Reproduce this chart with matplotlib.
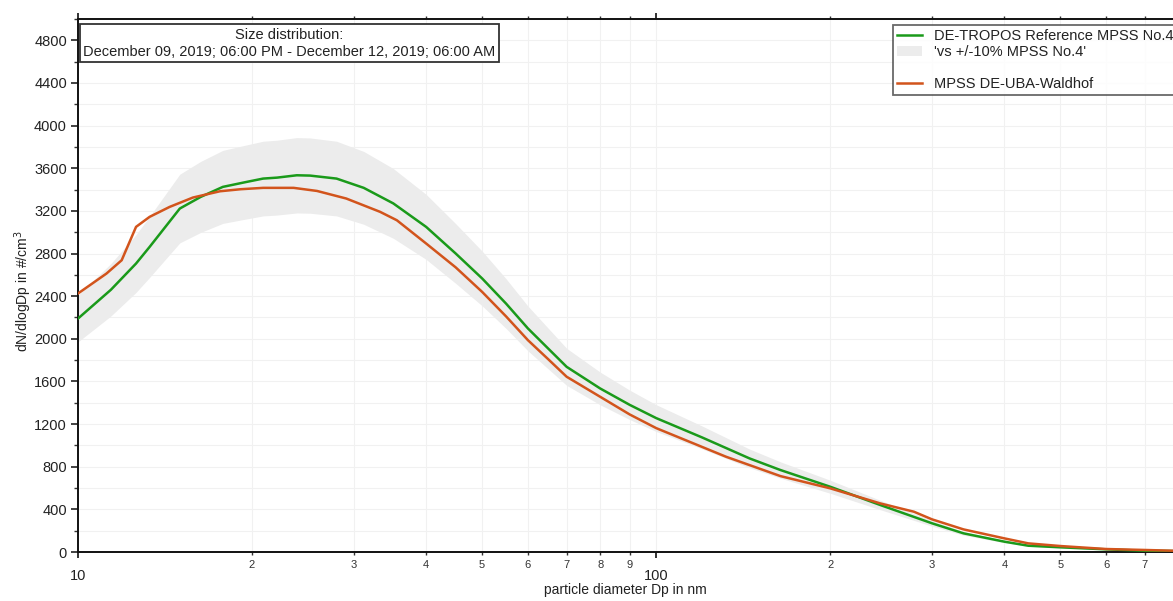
import matplotlib
matplotlib.use("Agg")
import matplotlib.pyplot as plt
import numpy as np
from matplotlib.lines import Line2D
from matplotlib.patches import Patch
from matplotlib.ticker import LogLocator, FixedLocator, MultipleLocator, FuncFormatter

plt.rcParams['font.family'] = ['Liberation Sans', 'DejaVu Sans']

# Reference MPSS (DE-TROPOS), diameter in nm and dN/dlogDp in #/cm3
ref_dp = [10.0, 11.4, 12.6, 13.3, 15.0, 16.3, 17.8, 19.5, 20.9, 22.1, 23.9, 25.2,
          28.0, 31.2, 35.1, 40.0, 45.0, 50.0, 55.0, 60.0, 65.0, 70.0, 80.0, 90.0,
          100, 120, 145, 164, 200, 244, 300, 340, 400, 440, 500, 600, 700, 784]
ref_n = [2190, 2460, 2706, 2862, 3222, 3331, 3425, 3470, 3503, 3512, 3534, 3531,
         3503, 3416, 3270, 3050, 2800, 2566, 2330, 2097, 1910, 1737, 1534, 1380,
         1256, 1075, 878, 769, 612, 441, 269, 175, 97, 59, 44, 25, 12, 9]

# instrument under test (DE-UBA-Waldhof)
uba_dp = [10.0, 11.2, 11.9, 12.6, 13.3, 14.4, 15.8, 17.6, 19.1, 20.9, 23.6, 25.9,
          29.1, 33.3, 35.6, 40.0, 45.0, 50.0, 55.0, 60.0, 65.0, 70.0, 80.0, 90.0,
          100, 132, 164, 200, 244, 279, 300, 340, 400, 440, 500, 600, 700, 784]
uba_n = [2425, 2612, 2737, 3050, 3144, 3237, 3325, 3384, 3403, 3416, 3416, 3387,
         3316, 3191, 3112, 2894, 2670, 2440, 2210, 1987, 1810, 1644, 1456, 1290,
         1162, 894, 712, 597, 456, 378, 306, 212, 128, 81, 56, 28, 19, 12]

tolerance = 0.10  # +/-10 % band around the reference

title_text = "Size distribution:\nDecember 09, 2019; 06:00 PM - December 12, 2019; 06:00 AM"
ref_label = "DE-TROPOS Reference MPSS No.4"
band_label = "'vs +/-10% MPSS No.4'"
uba_label = "MPSS DE-UBA-Waldhof"

green = '#1a9a1a'
orange = '#d2541c'
band_col = '#ececec'

ref_dp = np.array(ref_dp)
ref_n = np.array(ref_n)

fig = plt.figure(figsize=(11.73, 6.01), dpi=100)
ax = fig.add_axes([78 / 1173, 49 / 601, 1 - 78 / 1173, 533 / 601])

ax.fill_between(ref_dp, ref_n * (1 - tolerance), ref_n * (1 + tolerance),
                color=band_col, lw=0, zorder=1)
ax.plot(ref_dp, ref_n, color=green, lw=1.8, zorder=3)
ax.plot(uba_dp, uba_n, color=orange, lw=1.8, zorder=3)

ax.set_xscale('log')
ax.set_xlim(10, 783)
ax.set_ylim(0, 5000)

# x ticks: big labels on decades, small labels on the minor ones
ax.xaxis.set_major_locator(FixedLocator([10, 100]))
ax.xaxis.set_major_formatter(FuncFormatter(lambda v, p: '%d' % v))
ax.xaxis.set_minor_locator(LogLocator(base=10, subs=np.arange(2, 10)))
ax.xaxis.set_minor_formatter(FuncFormatter(lambda v, p: '%d' % round(v / 10 ** np.floor(np.log10(v)))))
ax.tick_params(axis='x', which='major', direction='out', length=4.5, width=1.3,
               labelsize=10.5, pad=8, colors='#222222', top=True)
ax.tick_params(axis='x', which='minor', direction='out', length=2.5, width=1,
               labelsize=8, pad=3, colors='#333333', top=True)

ax.yaxis.set_major_locator(MultipleLocator(400))
ax.yaxis.set_minor_locator(MultipleLocator(200))
ax.tick_params(axis='y', which='major', direction='out', length=5, width=1.2,
               labelsize=10.5, pad=3, colors='#222222')
ax.tick_params(axis='y', which='minor', direction='out', length=3, width=1, colors='#333333')

ax.grid(True, which='both', color='#f1f1f1', lw=0.8, zorder=0)
ax.set_axisbelow(True)

for side in ['left', 'bottom', 'top']:
    ax.spines[side].set_color('#111111')
    ax.spines[side].set_linewidth(1.4)
ax.spines['right'].set_visible(False)

ax.set_xlabel("particle diameter Dp in nm", fontsize=10, color='#222222', labelpad=0)
ax.set_ylabel("dN/dlogDp in #/cm$^3$", fontsize=10, color='#222222')
ax.yaxis.set_label_coords(-0.0405, 0.49)

ax.text(0.0048, 0.984, title_text, transform=ax.transAxes, ha='left', va='top',
        multialignment='center', fontsize=10.5, color='#222222', zorder=5,
        linespacing=1.3,
        bbox=dict(boxstyle='square,pad=0.25', fc='white', ec='#333333', lw=1.3))

handles = [Line2D([], [], color=green, lw=1.8),
           Patch(facecolor=band_col, edgecolor='none'),
           Line2D([], [], color='none'),
           Line2D([], [], color=orange, lw=1.8)]
labels = [ref_label, band_label, ' ', uba_label]
leg = ax.legend(handles, labels, loc='upper left', bbox_to_anchor=(0.7443, 0.9887),
                fontsize=10.5, frameon=True, fancybox=False, borderaxespad=0,
                handlelength=1.75, handletextpad=0.8, labelspacing=0.15,
                borderpad=0.25)
leg.get_frame().set_edgecolor('#444444')
leg.get_frame().set_linewidth(1.3)
for t in leg.get_texts():
    t.set_color('#222222')

fig.savefig('out.png', dpi=100)
